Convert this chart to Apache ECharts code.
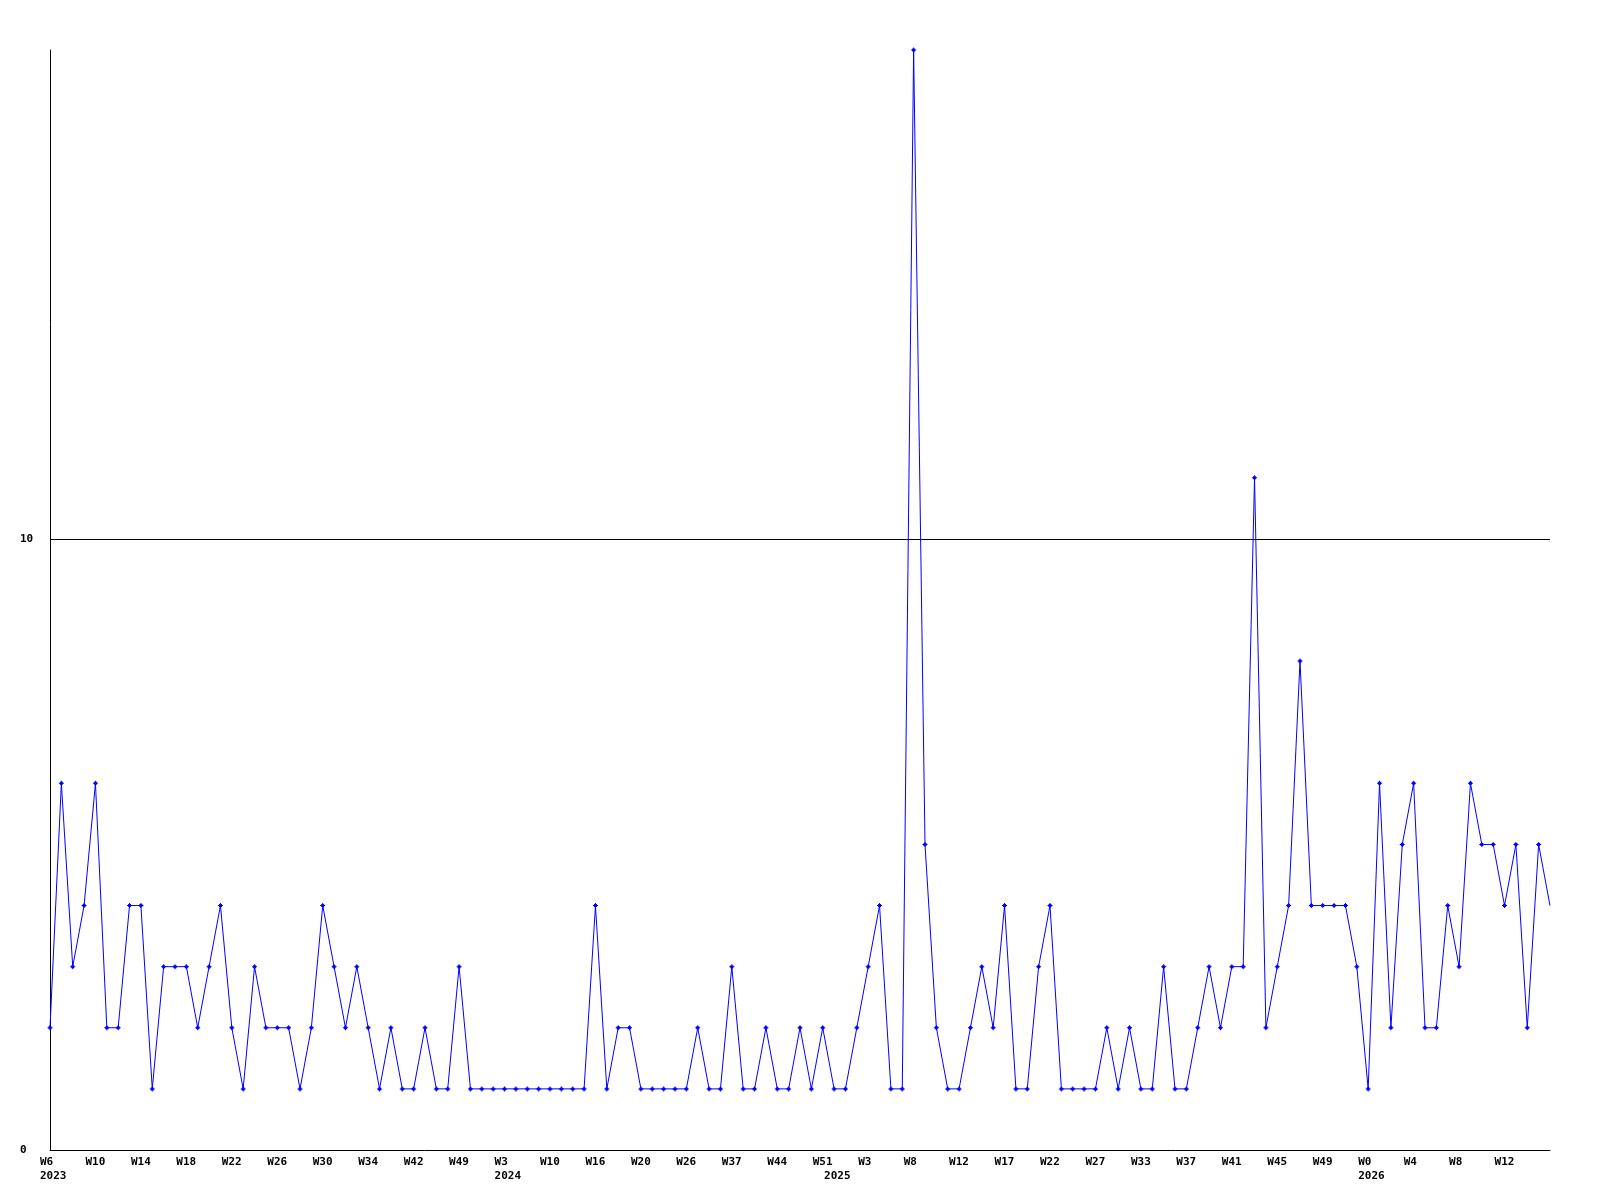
<!DOCTYPE html>
<html>
<head>
<meta charset="utf-8">
<script src="https://cdn.jsdelivr.net/npm/echarts@6/dist/echarts.min.js"></script>
<style>html,body{margin:0;padding:0;background:#fff}#c{width:1600px;height:1200px}</style>
</head>
<body>
<div id="c"></div>
<script>
// Weekly values (133 points)
const values = [
  2,6,3,4,6,2,2,4,4,1,3,3,3,2,3,4,2,1,3,2,2,2,1,2,4,3,2,3,2,1,2,1,1,
  2,1,1,3,1,1,1,1,1,1,1,1,1,1,1,4,1,2,2,1,1,1,1,1,2,1,1,3,1,1,2,1,1,2,1,
  2,1,1,2,3,4,1,1,18,5,2,1,1,2,3,2,4,1,1,3,4,1,1,1,1,2,1,2,1,1,3,1,1,2,3,2,
  3,3,11,2,3,4,8,4,4,4,4,3,1,6,2,5,6,2,2,4,3,6,5,5,4,5,2,5,4
];
// Week tick labels, one every 4 points
const weekTicks = ['W6','W10','W14','W18','W22','W26','W30','W34','W42','W49',
  'W3','W10','W16','W20','W26','W37','W44','W51',
  'W3','W8','W12','W17','W22','W27','W33','W37','W41','W45','W49',
  'W0','W4','W8','W12'];
// Year labels and the point index where each year starts
const yearNames = ['2023', '2024', '2025', '2026'];
const yearStarts = [0, 40, 69, 116];
const yTicks = [0, 10];

const categories = values.map((v, i) => String(i));
const tickEvery = 4;

const chart = echarts.init(document.getElementById('c'), null, {renderer: 'canvas'});
const font = {fontFamily: 'DejaVu Sans Mono', fontWeight: 'bold', fontSize: 11, color: '#000'};
const marker = 'path://M2,0L3,0L3,1L4,1L4,2L5,2L5,3L4,3L4,4L3,4L3,5L2,5L2,4L1,4L1,3L0,3L0,2L1,2L1,1L2,1Z';

chart.setOption({
  animation: false,
  backgroundColor: '#fff',
  grid: {left: 50, right: 50, top: 50, bottom: 50, containLabel: false},
  xAxis: [{
    type: 'category',
    data: categories,
    boundaryGap: false,
    axisLine: {lineStyle: {color: '#000', width: 1}},
    axisTick: {show: false},
    splitLine: {show: false},
    axisLabel: Object.assign({}, font, {
      interval: tickEvery - 1,
      align: 'left',
      padding: [0, 0, 0, -10],
      margin: 7,
      formatter: function (v, i) {
        const k = i / tickEvery;
        return k < weekTicks.length ? weekTicks[k] : '';
      }
    })
  }, {
    type: 'category',
    data: categories,
    position: 'bottom',
    boundaryGap: false,
    axisLine: {show: false},
    axisTick: {show: false},
    splitLine: {show: false},
    axisLabel: Object.assign({}, font, {
      interval: function (i) { return yearStarts.indexOf(i) >= 0; },
      align: 'left',
      padding: [0, 0, 0, -10],
      margin: 21,
      formatter: function (v, i) {
        const k = yearStarts.indexOf(i);
        return k >= 0 ? yearNames[k] : '';
      }
    })
  }],
  yAxis: {
    type: 'value',
    min: yTicks[0],
    max: 18,
    interval: yTicks[1] - yTicks[0],
    axisLine: {show: true, lineStyle: {color: '#000', width: 1}},
    axisTick: {show: false},
    splitLine: {show: true, lineStyle: {color: ['rgba(0,0,0,0)', '#000', 'rgba(0,0,0,0)'], width: 1}},
    axisLabel: Object.assign({}, font, {
      align: 'left',
      margin: 30,
      showMaxLabel: false,
      formatter: function (v) { return yTicks.indexOf(v) >= 0 ? String(v) : ''; }
    })
  },
  series: [{
    type: 'line',
    xAxisIndex: 0,
    data: values.map((v, i) => i === values.length - 1 ? {value: v, symbol: 'none'} : v),
    symbol: marker,
    symbolSize: 5,
    showAllSymbol: true,
    lineStyle: {color: '#0000ff', width: 1},
    itemStyle: {color: '#0000ff'},
    clip: true
  }]
});
</script>
</body>
</html>
